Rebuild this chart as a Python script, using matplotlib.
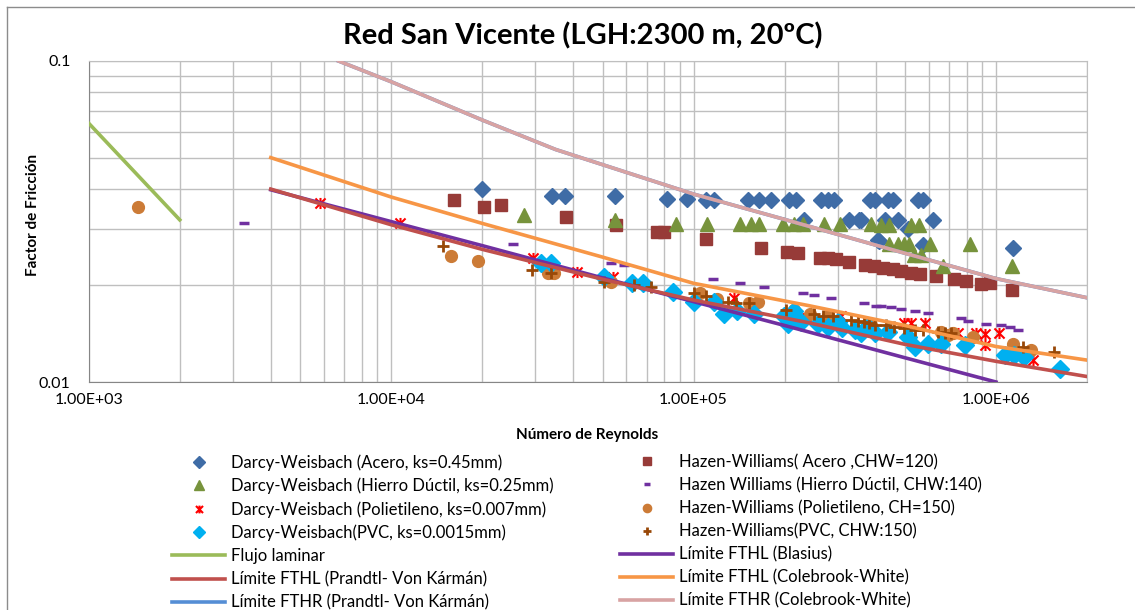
import matplotlib
matplotlib.use("Agg")
import matplotlib.pyplot as plt
from matplotlib.path import Path
from matplotlib.lines import Line2D
from matplotlib.ticker import LogLocator, NullFormatter

plt.rcParams['font.family'] = ['Lato', 'DejaVu Sans']

# --- datos ---
dw_acero_re = [19900, 34100, 37500, 55200, 82000, 95000, 110000, 117000, 151000, 165000,
               180000, 207000, 218000, 264000, 278000, 292000, 382000, 397000, 439000, 456000,
               552000, 573000, 232000, 327000, 353000, 358000, 428000, 474000, 512000, 619000,
               412000, 573000, 406000, 1140000]
dw_acero_f = [0.0400, 0.0380, 0.0380, 0.0380, 0.0371, 0.0371, 0.0369, 0.0369, 0.0369, 0.0369,
              0.0369, 0.0369, 0.0369, 0.0369, 0.0369, 0.0369, 0.0369, 0.0369, 0.0370, 0.0370,
              0.0370, 0.0370, 0.0319, 0.0319, 0.0319, 0.0319, 0.0319, 0.0319, 0.0300, 0.0319,
              0.0275, 0.0267, 0.0276, 0.0261]

hw_acero_re = [16100, 20300, 23000, 37800, 55400, 76000, 80000, 110000, 167000, 204000,
               221000, 261000, 278000, 296000, 327000, 370000, 394000, 423000, 456000, 486000,
               525000, 559000, 634000, 729000, 797000, 894000, 953000, 1130000]
hw_acero_f = [0.0370, 0.0350, 0.0357, 0.0327, 0.0308, 0.0294, 0.0294, 0.0279, 0.0262, 0.0254,
              0.0252, 0.0244, 0.0243, 0.0241, 0.0237, 0.0232, 0.0230, 0.0227, 0.0225, 0.0222,
              0.0219, 0.0217, 0.0214, 0.0210, 0.0206, 0.0202, 0.0203, 0.0193]

dw_hd_re = [27500, 55000, 87300, 111000, 142000, 155000, 165000, 197000, 215000, 230000,
            271000, 304000, 385000, 417000, 444000, 525000, 555000, 444000, 474000, 498000,
            517000, 603000, 818000, 535000, 565000, 668000, 1130000]
dw_hd_f = [0.0331, 0.0319, 0.0310, 0.0310, 0.0310, 0.0310, 0.0310, 0.0310, 0.0310, 0.0310,
           0.0310, 0.0310, 0.0310, 0.0308, 0.0308, 0.0308, 0.0308, 0.0270, 0.0270, 0.0270,
           0.0270, 0.0270, 0.0269, 0.0248, 0.0248, 0.0229, 0.0229]

hw_hd_re = [3250, 25200, 53200, 58900, 116000, 142000, 171000, 230000, 251000, 285000,
            367000, 402000, 417000, 450000, 486000, 538000, 596000, 767000, 807000, 929000,
            1040000, 1110000, 1180000]
hw_hd_f = [0.0313, 0.0270, 0.0235, 0.0231, 0.0210, 0.0204, 0.0198, 0.0190, 0.0186, 0.0183,
           0.0176, 0.0173, 0.0173, 0.0171, 0.0169, 0.0166, 0.0164, 0.0158, 0.0155, 0.0152,
           0.0151, 0.0148, 0.0145]

dw_pe_re = [5810, 10700, 29500, 41300, 54000, 136000, 238000, 308000, 498000, 525000,
            581000, 748000, 861000, 917000, 922000, 1020000, 1330000]
dw_pe_f = [0.0360, 0.0312, 0.0243, 0.0220, 0.0213, 0.0183, 0.0158, 0.0160, 0.0153, 0.0153,
           0.0153, 0.0142, 0.0142, 0.0141, 0.0130, 0.0142, 0.0117]

hw_pe_re = [1460, 15800, 19400, 33000, 34600, 53200, 105000, 120000, 153000, 163000,
            215000, 242000, 278000, 377000, 387000, 659000, 694000, 720000, 838000, 1140000,
            1310000]
hw_pe_f = [0.0351, 0.0247, 0.0238, 0.0219, 0.0218, 0.0205, 0.0189, 0.0182, 0.0176, 0.0177,
           0.0168, 0.0163, 0.0160, 0.0152, 0.0150, 0.0143, 0.0140, 0.0142, 0.0138, 0.0131,
           0.0126]

dw_pvc_re = [31200, 33700, 50600, 62800, 67800, 85200, 100500, 117000, 126000, 139000,
             159000, 199000, 205000, 215000, 227000, 258000, 278000, 300000, 310000, 341000,
             377000, 358000, 397000, 439000, 512000, 538000, 596000, 659000, 787000, 1070000,
             1150000, 1240000, 1630000]
dw_pvc_f = [0.0234, 0.0234, 0.0213, 0.0203, 0.0203, 0.0191, 0.0178, 0.0178, 0.0163, 0.0167,
            0.0163, 0.0160, 0.0152, 0.0167, 0.0154, 0.0152, 0.0148, 0.0154, 0.0147, 0.0145,
            0.0148, 0.0142, 0.0142, 0.0143, 0.0138, 0.0129, 0.0131, 0.0131, 0.0130, 0.0121,
            0.0121, 0.0120, 0.0110]

hw_pvc_re = [14900, 29300, 33700, 50600, 63500, 72200, 100500, 110000, 130000, 138000,
             153000, 202000, 251000, 267000, 289000, 332000, 349000, 367000, 380000, 397000,
             433000, 461000, 498000, 538000, 573000, 643000, 678000, 711000, 1230000, 1560000]
hw_pvc_f = [0.0265, 0.0223, 0.0218, 0.0205, 0.0200, 0.0197, 0.0189, 0.0185, 0.0178, 0.0176,
            0.0176, 0.0168, 0.0163, 0.0161, 0.0160, 0.0156, 0.0155, 0.0154, 0.0153, 0.0151,
            0.0150, 0.0148, 0.0147, 0.0145, 0.0145, 0.0143, 0.0142, 0.0142, 0.0129, 0.0124]

# curvas limite
laminar_re = [1000, 2000]
laminar_f = [0.064, 0.032]
blasius_re = [4000, 10000, 20000, 50000, 100000, 200000, 500000, 1000000]
blasius_f = [0.0397, 0.0316, 0.0266, 0.0211, 0.0178, 0.0150, 0.0119, 0.0100]
fthl_re = [4000, 10000, 20000, 50000, 100000, 240000, 500000, 1000000, 2000000]
fthl_pvk_f = [0.0399, 0.0309, 0.0259, 0.0209, 0.0180, 0.0153, 0.0131, 0.0116, 0.0104]
fthl_cw_f = [0.0500, 0.0377, 0.0312, 0.0245, 0.0203, 0.0173, 0.0150, 0.0129, 0.0117]
fthr_re = [6700, 10000, 20000, 35000, 100000, 200000, 400000, 1000000, 2000000]
fthr_pvk_f = [0.100, 0.0862, 0.0655, 0.0530, 0.0385, 0.0321, 0.0267, 0.0210, 0.0183]
fthr_cw_f = [0.100, 0.0862, 0.0655, 0.0530, 0.0385, 0.0321, 0.0267, 0.0210, 0.0183]

x_ticks = [1e3, 1e4, 1e5, 1e6]
x_ticklabels = ['1.00E+03', '1.00E+04', '1.00E+05', '1.00E+06']
y_ticks = [0.01, 0.1]
y_ticklabels = ['0.01', '0.1']

# marcador estrella tipo Excel
star = Path([(-1, -1), (1, 1), (-1, 1), (1, -1), (0, -1.1), (0, 1.1)],
            [Path.MOVETO, Path.LINETO, Path.MOVETO, Path.LINETO, Path.MOVETO, Path.LINETO])

fig = plt.figure(figsize=(11.35, 6.10), dpi=100)
ax = fig.add_axes([88.7 / 1135, 1 - 382 / 610, 998.3 / 1135, 321 / 610])
ax.set_xscale('log')
ax.set_yscale('log')
ax.set_xlim(1e3, 2e6)
ax.set_ylim(0.01, 0.1)

h = {}
h['dwa'], = ax.plot(dw_acero_re, dw_acero_f, ls='none', marker='D', ms=8.5, color='#3F6CA6', zorder=3)
h['hwa'], = ax.plot(hw_acero_re, hw_acero_f, ls='none', marker='s', ms=8.5, color='#973B38', zorder=3.1)
h['dwh'], = ax.plot(dw_hd_re, dw_hd_f, ls='none', marker='^', ms=9.5, color='#77933C', zorder=3.2)
h['hwh'], = ax.plot(hw_hd_re, hw_hd_f, ls='none', marker='_', ms=7, mew=2.5, color='#7030A0', zorder=3.3)
h['dwp'], = ax.plot(dw_pe_re, dw_pe_f, ls='none', marker=star, ms=8, mew=1.5, color='#FF0000',
                    mfc='none', zorder=3.4)
h['hwp'], = ax.plot(hw_pe_re, hw_pe_f, ls='none', marker='o', ms=8.5, color='#CC7B36', zorder=3.5)
h['dwv'], = ax.plot(dw_pvc_re, dw_pvc_f, ls='none', marker='D', ms=9, color='#00B0F0', zorder=3.6)
h['hwv'], = ax.plot(hw_pvc_re, hw_pvc_f, ls='none', marker='+', ms=9, mew=2, color='#984807', zorder=3.7)

h['lam'], = ax.plot(laminar_re, laminar_f, color='#9BBB59', lw=2.6, zorder=4)
h['bla'], = ax.plot(blasius_re, blasius_f, color='#7030A0', lw=2.6, zorder=4.1)
h['pvkl'], = ax.plot(fthl_re, fthl_pvk_f, color='#C0504D', lw=2.6, zorder=4.2)
h['cwl'], = ax.plot(fthl_re, fthl_cw_f, color='#F79646', lw=2.6, zorder=4.3)
h['pvkr'], = ax.plot(fthr_re, fthr_pvk_f, color='#558ED5', lw=2.6, zorder=4.4)
h['cwr'], = ax.plot(fthr_re, fthr_cw_f, color='#D8A3A3', lw=2.6, zorder=4.5)

# ejes y rejilla
ax.xaxis.set_minor_locator(LogLocator(base=10, subs=range(2, 10)))
ax.yaxis.set_minor_locator(LogLocator(base=10, subs=range(2, 10)))
ax.xaxis.set_minor_formatter(NullFormatter())
ax.yaxis.set_minor_formatter(NullFormatter())
ax.set_xticks(x_ticks)
ax.set_xticklabels(x_ticklabels)
ax.set_yticks(y_ticks)
ax.set_yticklabels(y_ticklabels)
ax.tick_params(which='both', length=0, labelsize=11.5, colors='#000000')
ax.tick_params(axis='x', pad=8)
ax.tick_params(axis='y', pad=13)
ax.grid(which='both', color='#BFBFBF', lw=1)
ax.set_axisbelow(True)
for s in ['top', 'right']:
    ax.spines[s].set_color('#BFBFBF')
for s in ['left', 'bottom']:
    ax.spines[s].set_color('#868686')

fig.text(583 / 1135, 1 - 36 / 610, 'Red San Vicente (LGH:2300 m, 20ºC)', ha='center', va='center',
         fontsize=21, fontweight='bold')
fig.text(587 / 1135, 1 - 435 / 610, 'Número de Reynolds', ha='center', va='center',
         fontsize=11, fontweight='bold')
fig.text(33 / 1135, 1 - 215 / 610, 'Factor de Fricción', ha='center', va='center', rotation=90,
         fontsize=11, fontweight='bold')

col1 = [('dwa', 'Darcy-Weisbach (Acero, ks=0.45mm)'),
        ('dwh', 'Darcy-Weisbach (Hierro Dúctil, ks=0.25mm)'),
        ('dwp', 'Darcy-Weisbach (Polietileno, ks=0.007mm)'),
        ('dwv', 'Darcy-Weisbach(PVC, ks=0.0015mm)'),
        ('lam', 'Flujo laminar'),
        ('pvkl', 'Límite FTHL (Prandtl- Von Kármán)'),
        ('pvkr', 'Límite FTHR (Prandtl- Von Kármán)')]
col2 = [('hwa', 'Hazen-Williams( Acero ,CHW=120)'),
        ('hwh', 'Hazen Williams (Hierro Dúctil, CHW:140)'),
        ('hwp', 'Hazen-Williams (Polietileno, CH=150)'),
        ('hwv', 'Hazen-Williams(PVC, CHW:150)'),
        ('bla', 'Límite FTHL (Blasius)'),
        ('cwl', 'Límite FTHL (Colebrook-White)'),
        ('cwr', 'Límite FTHR (Colebrook-White)')]

for col, x0 in [(col1, 172 / 1135), (col2, 620 / 1135)]:
    fig.legend([h[k] for k, _ in col], [t for _, t in col], loc='upper left',
               bbox_to_anchor=(x0, 1 - 454 / 610), bbox_transform=fig.transFigure,
               frameon=False, borderpad=0, borderaxespad=0, numpoints=1, markerscale=0.7,
               handlelength=3.2, handletextpad=0.36, labelspacing=0.42, fontsize=12)

# borde del area del grafico
fig.add_artist(Line2D([7 / 1135, 7 / 1135], [0, 1 - 7 / 610], color='#8C8C8C', lw=1))
fig.add_artist(Line2D([7 / 1135, 1], [1 - 7 / 610, 1 - 7 / 610], color='#8C8C8C', lw=1))

fig.savefig('out.png', dpi=100)
